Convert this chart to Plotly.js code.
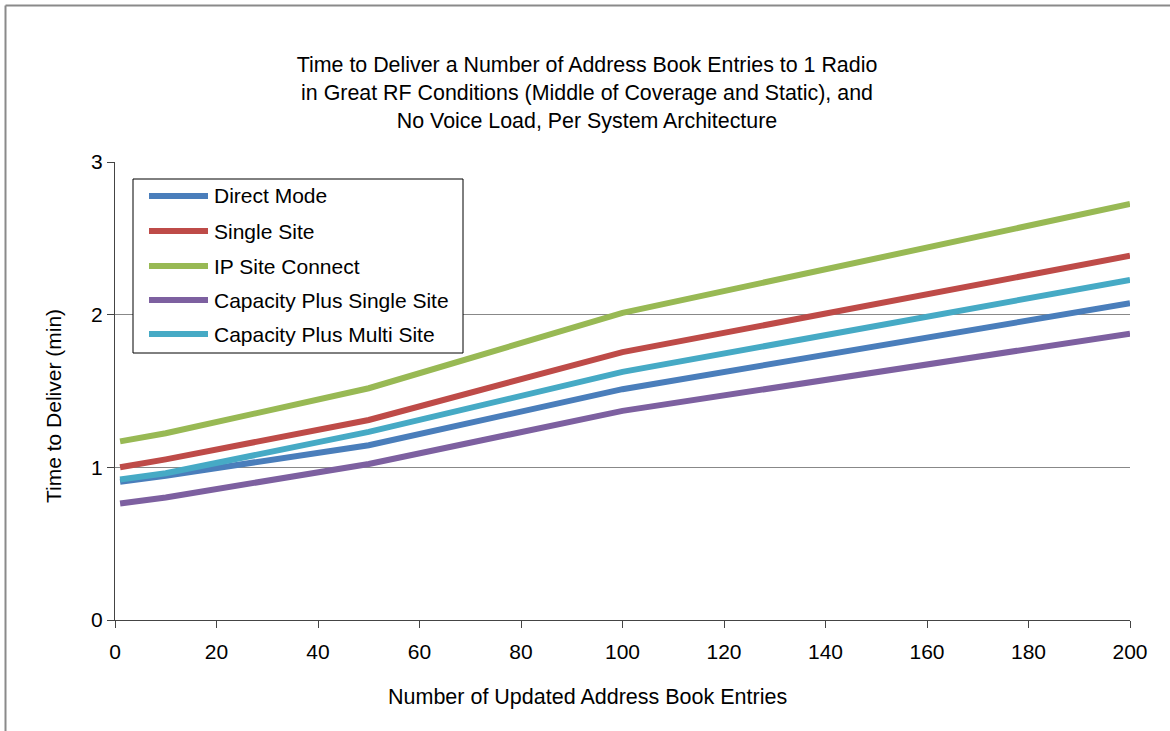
<!DOCTYPE html>
<html>
<head>
<meta charset="utf-8">
<script src="https://cdn.plot.ly/plotly-3.0.1.min.js"></script>
<style>
  html, body { margin: 0; padding: 0; background: #ffffff; }
  #chart { width: 1170px; height: 731px; }
</style>
</head>
<body>
<div id="chart"></div>
<script>
// ---- data ----
const entries = [1, 10, 50, 100, 200];
const seriesNames = ["Direct Mode", "Single Site", "IP Site Connect", "Capacity Plus Single Site", "Capacity Plus Multi Site"];
const directMode = [0.905, 0.945, 1.145, 1.512, 2.075];
const singleSite = [1.0, 1.052, 1.31, 1.755, 2.386];
const ipSiteConnect = [1.17, 1.223, 1.518, 2.012, 2.725];
const capPlusSingle = [0.763, 0.803, 1.022, 1.37, 1.876];
const capPlusMulti = [0.92, 0.961, 1.232, 1.625, 2.228];
const xTicks = [0, 20, 40, 60, 80, 100, 120, 140, 160, 180, 200];
const yTicks = [0, 1, 2, 3];
const titleText = "Time to Deliver a Number of Address Book Entries to 1 Radio<br>in Great RF Conditions (Middle of Coverage and Static), and<br>No Voice Load, Per System Architecture";
const xTitle = "Number of Updated Address Book Entries";
const yTitle = "Time to Deliver (min)";

// ---- styling ----
const colors = ["#4A7EBB", "#BE4B48", "#98B954", "#7D60A0", "#46AAC5"];
const allValues = [directMode, singleSite, ipSiteConnect, capPlusSingle, capPlusMulti];
const FONT = "Liberation Sans, Arial, sans-serif";
const FS = 21;

// plot area in pixels
const L = 115, R = 1130, T = 162, B = 620, W = 1170, H = 731;
const px = v => (v - L) / (R - L);
const py = v => (B - v) / (B - T);

const traces = allValues.map((vals, i) => ({
  x: entries,
  y: vals,
  name: seriesNames[i],
  type: "scatter",
  mode: "lines",
  line: { color: colors[i], width: 6 },
  showlegend: false,
  hoverinfo: "x+y+name"
}));

// custom legend (box, line samples, labels)
const shapes = [
  { type: "rect", xref: "paper", yref: "paper", x0: px(133), x1: px(463), y0: py(353), y1: py(179),
    line: { color: "#000000", width: 1 }, fillcolor: "#ffffff", layer: "above" },
  // outer chart-area border (top & left visible)
  { type: "line", xref: "paper", yref: "paper", x0: px(5.5), x1: px(1175), y0: py(5.5), y1: py(5.5),
    line: { color: "#8a8a8a", width: 2 } },
  { type: "line", xref: "paper", yref: "paper", x0: px(5.5), x1: px(5.5), y0: py(5.5), y1: py(740),
    line: { color: "#8a8a8a", width: 2 } }
];
const annotations = [];
const legendY = [196, 231, 266, 300, 334];
seriesNames.forEach((n, i) => {
  shapes.push({ type: "line", xref: "paper", yref: "paper", x0: px(149), x1: px(208),
    y0: py(legendY[i]), y1: py(legendY[i]), line: { color: colors[i], width: 6 }, layer: "above" });
  annotations.push({ xref: "paper", yref: "paper", x: px(212), y: py(legendY[i]), text: n,
    showarrow: false, xanchor: "left", yanchor: "middle", font: { family: FONT, size: FS, color: "#000" } });
});
annotations.push({ xref: "paper", yref: "paper", x: px(587), y: py(697), text: xTitle,
  showarrow: false, xanchor: "center", yanchor: "middle", font: { family: FONT, size: 21.5, color: "#000" } });
annotations.push({ xref: "paper", yref: "paper", x: px(53), y: py(406), text: yTitle, textangle: -90,
  showarrow: false, xanchor: "center", yanchor: "middle", font: { family: FONT, size: FS, color: "#000" } });

const layout = {
  width: W, height: H,
  margin: { l: L, r: W - R, t: T, b: H - B, pad: 0 },
  paper_bgcolor: "#ffffff",
  plot_bgcolor: "#ffffff",
  font: { family: FONT, size: FS, color: "#000000" },
  title: {
    text: titleText,
    font: { family: FONT, size: 21.4, color: "#000000" },
    xref: "container", x: 587 / W, xanchor: "center",
    yref: "container", y: 1 - 72 / H, yanchor: "middle"
  },
  xaxis: {
    range: [0, 200],
    tickvals: xTicks,
    ticktext: xTicks.map(String),
    ticks: "outside", ticklen: 7, tickwidth: 1, tickcolor: "#444444",
    showline: true, linecolor: "#444444", linewidth: 1,
    showgrid: false, zeroline: false,
    ticklabelstandoff: 6,
    tickfont: { family: FONT, size: FS, color: "#000" },
    fixedrange: true
  },
  yaxis: {
    range: [0, 3],
    tickvals: yTicks,
    ticktext: yTicks.map(String),
    ticks: "outside", ticklen: 7, tickwidth: 1, tickcolor: "#444444",
    showline: true, linecolor: "#444444", linewidth: 1,
    showgrid: true, gridcolor: "#888888", gridwidth: 1,
    zeroline: false,
    tickfont: { family: FONT, size: FS, color: "#000" },
    fixedrange: true
  },
  shapes: shapes,
  annotations: annotations,
  showlegend: false
};

Plotly.newPlot("chart", traces, layout, { displayModeBar: false, staticPlot: false });
</script>
</body>
</html>
